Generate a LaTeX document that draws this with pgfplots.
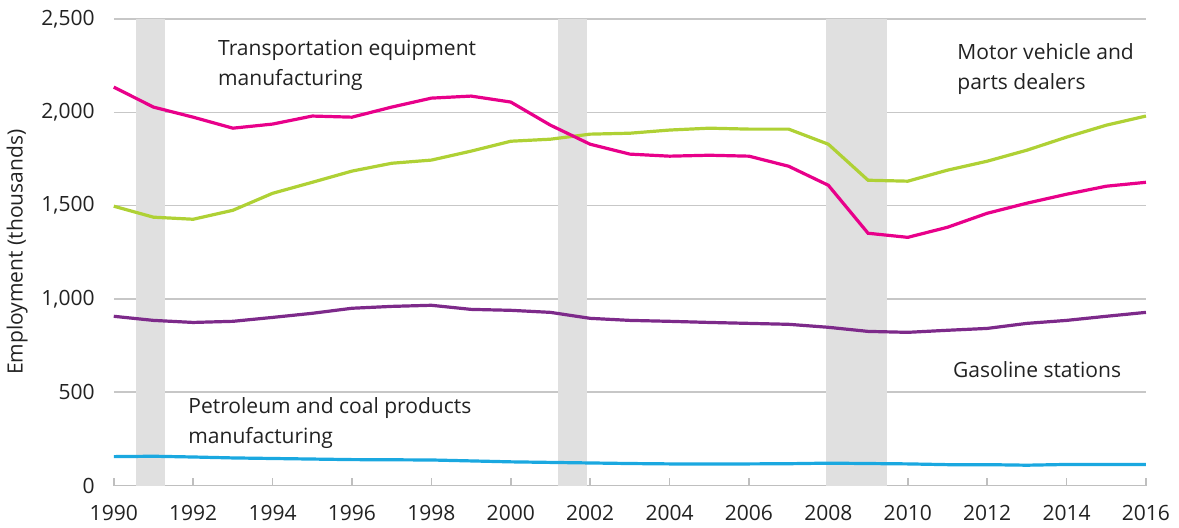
\documentclass[border=0pt]{standalone}
\usepackage{fontspec}
\setmainfont{Open Sans}
\usepackage{pgfplots}
\pgfplotsset{compat=1.18}
\definecolor{transp}{HTML}{E8008A}
\definecolor{motor}{HTML}{AFD135}
\definecolor{gasst}{HTML}{7D2A8A}
\definecolor{petro}{HTML}{1AA8E0}
\definecolor{recess}{HTML}{E0E0E0}
\definecolor{txt}{HTML}{222222}
\newcommand{\fs}{\fontsize{10.5}{15}\selectfont}

\pgfplotstableread{
year transp motor gas petro
1990 2135 1497 907 155
1991 2028 1438 885 157
1992 1974 1427 874 153
1993 1915 1475 880 148
1994 1937 1566 901 145
1995 1980 1625 923 142
1996 1974 1685 950 139
1997 2028 1727 960 138
1998 2076 1744 966 137
1999 2087 1792 944 132
2000 2055 1845 939 127
2001 1931 1856 928 124
2002 1829 1883 896 121
2003 1776 1888 885 118
2004 1765 1905 880 116
2005 1770 1915 874 116
2006 1765 1910 869 116
2007 1711 1910 864 117
2008 1609 1829 848 120
2009 1352 1636 826 118
2010 1330 1631 821 116
2011 1384 1690 832 112
2012 1459 1738 842 112
2013 1513 1797 869 109
2014 1561 1867 885 113
2015 1604 1931 907 113
2016 1625 1980 928 113
}\empdata

\begin{document}
\begin{tikzpicture}
\begin{axis}[
    name=ax,
    scale only axis,
    width=515.5pt, height=233pt,
    xmin=1990, xmax=2016, ymin=0, ymax=2500,
    xtick={1990,1992,...,2016},
    ytick={0,500,...,2500},
    axis lines*=left,
    y axis line style={draw=none},
    x axis line style={draw=black!25, line width=0.8pt},
    xtick style={draw=black!25, line width=0.8pt},
    ytick style={draw=none},
    tick align=inside,
    major tick length=4pt,
    ymajorgrids,
    grid style={draw=black!22, line width=0.8pt},
    /pgf/number format/assume math mode=true,
    xticklabel style={/pgf/number format/1000 sep={}, inner sep=1pt, yshift=-8.5pt},
    yticklabel style={/pgf/number format/1000 sep={,}, xshift=-6pt},
    tick label style={font=\fs, text=txt},
    ylabel={Employment (thousands)},
    ylabel style={font=\fs, text=txt},
    clip=false,
]
% recession bands
\addplot[fill=recess, draw=none] coordinates {(1990.55,0) (1990.55,2500) (1991.28,2500) (1991.28,0)} -- cycle;
\addplot[fill=recess, draw=none] coordinates {(2001.19,0) (2001.19,2500) (2001.92,2500) (2001.92,0)} -- cycle;
\addplot[fill=recess, draw=none] coordinates {(2007.93,0) (2007.93,2500) (2009.47,2500) (2009.47,0)} -- cycle;

\addplot[petro, line width=1.6pt] table[x=year, y=petro] {\empdata};
\addplot[gasst, line width=1.6pt] table[x=year, y=gas] {\empdata};
\addplot[motor, line width=1.6pt] table[x=year, y=motor] {\empdata};
\addplot[transp, line width=1.6pt] table[x=year, y=transp] {\empdata};

\node[anchor=north west, align=left, inner sep=0pt, font=\fs, text=txt] at (axis cs:1992.62,2390) {Transportation equipment\\manufacturing};
\node[anchor=north west, align=left, inner sep=0pt, font=\fs, text=txt] at (axis cs:2011.24,2371) {Motor vehicle and\\parts dealers};
\node[anchor=north west, align=left, inner sep=0pt, font=\fs, text=txt] at (axis cs:2011.13,665) {Gasoline stations};
\node[anchor=north west, align=left, inner sep=0pt, font=\fs, text=txt] at (axis cs:1991.87,472) {Petroleum and coal products\\manufacturing};
\end{axis}
\path (ax.north) ++(0,9.5pt);
\path (ax.south) ++(0,-21pt);
\path (ax.east) ++(16.5pt,0);
\end{tikzpicture}
\end{document}
